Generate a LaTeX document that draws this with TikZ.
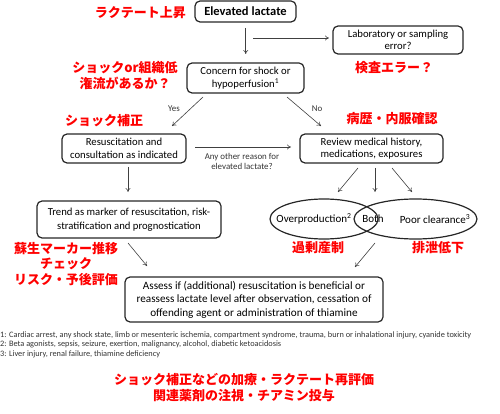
\documentclass[tikz,border=0pt]{standalone}
\usepackage{fontspec}
\setmainfont{Carlito}
\newfontfamily\jp{Noto Sans CJK JP}
\usetikzlibrary{arrows.meta,shapes.geometric}
\begin{document}
\begin{tikzpicture}[x=1pt,y=-1pt,
  box/.style={draw=black!85, line width=1.2pt, rounded corners=5pt, align=center,
    font=\fontsize{10.7}{12.5}\selectfont, inner sep=0pt},
  conn/.style={draw=black!75, line width=0.6pt, -{To[length=4pt,width=5pt]}},
  jlab/.style={text=red, font=\jp\bfseries\fontsize{13}{15.5}\selectfont, align=center, inner sep=0pt},
  small/.style={font=\fontsize{8.9}{10}\selectfont, text=black!80, inner sep=0pt, align=center},
  foot/.style={font=\fontsize{8.3}{9.5}\selectfont, text=black!80, inner sep=0pt, anchor=west},
  elltext/.style={font=\fontsize{11}{12}\selectfont, inner sep=0pt},
  ell/.style={draw=black!85, line width=1.2pt, ellipse, inner sep=0pt}]
\useasboundingbox (0,0) rectangle (500,414);

% boxes
\node[box, minimum width=101pt, minimum height=21pt, font=\bfseries\fontsize{12.5}{13}\selectfont] (elev) at (245.5,11.5) {Elevated lactate};
\node[box, minimum width=130pt, minimum height=28pt] (lab) at (398,40) {Laboratory or sampling\\error?};
\node[box, minimum width=117pt, minimum height=30pt] (concern) at (245.5,78) {Concern for shock or\\hypoperfusion\textsuperscript{1}};
\node[box, minimum width=124pt, minimum height=29pt] (resus) at (124,148.5) {Resuscitation and\\consultation as indicated};
\node[box, minimum width=143pt, minimum height=29pt] (review) at (371.5,148.5) {Review medical history,\\medications, exposures};
\node[box, minimum width=184pt, minimum height=37pt, font=\fontsize{10.7}{14}\selectfont] (trend) at (129,219.5) {Trend as marker of resuscitation, risk-\\stratification and prognostication};
\node[box, minimum width=258pt, minimum height=45pt, font=\fontsize{11.2}{13.5}\selectfont] (assess) at (254,299.5) {Assess if (additional) resuscitation is beneficial or\\reassess lactate level after observation, cessation of\\offending agent or administration of thiamine};

% ellipses
\node[ell, minimum width=108pt, minimum height=40pt] (over) at (324,219) {};
\node[ell, minimum width=123pt, minimum height=40pt] (poor) at (415.5,219) {};
\node[elltext] (overt) at (314,219) {Overproduction\textsuperscript{2}};
\node[elltext] (both) at (373,219) {Both};
\node[elltext] (poort) at (435,219) {Poor clearance\textsuperscript{3}};

% connector end points
\coordinate (e1) at (245.7,28);  \coordinate (e2) at (245.7,54);
\coordinate (l1) at (253,38);    \coordinate (l2) at (329,38);
\coordinate (y1) at (203,97);    \coordinate (y2) at (172,126);
\coordinate (n1) at (287,97);    \coordinate (n2) at (321,126);
\coordinate (a1) at (195,147);   \coordinate (a2) at (291,147);
\coordinate (r1) at (128,167);   \coordinate (r2) at (128,192);
\coordinate (v1) at (358,168);   \coordinate (v2) at (338,192);
\coordinate (v3) at (375,168);   \coordinate (v4) at (375,192);
\coordinate (v5) at (392,168);   \coordinate (v6) at (412,192);
\coordinate (b1) at (375,243);   \coordinate (b2) at (355,267);
\coordinate (t1) at (128,243);   \coordinate (t2) at (147,266);

\draw[conn] (e1) -- (e2);
\draw[conn] (l1) -- (l2);
\draw[conn] (y1) -- (y2);
\draw[conn] (n1) -- (n2);
\draw[conn] (a1) -- (a2);
\draw[conn] (r1) -- (r2);
\draw[conn] (v1) -- (v2);
\draw[conn] (v3) -- (v4);
\draw[conn] (v5) -- (v6);
\draw[conn] (b1) -- (b2);
\draw[conn] (t1) -- (t2);

% connector labels
\node[small] (yes) at (174,109) {Yes};
\node[small] (no) at (317,109) {No};
\node[small] (other) at (242,161) {Any other reason for\\elevated lactate?};

% footnotes
\node[foot] (f1) at (0,335) {1: Cardiac arrest, any shock state, limb or mesenteric ischemia, compartment syndrome, trauma, burn or inhalational injury, cyanide toxicity};
\node[foot] (f2) at (0,344.5) {2: Beta agonists, sepsis, seizure, exertion, malignancy, alcohol, diabetic ketoacidosis};
\node[foot] (f3) at (0,354) {3: Liver injury, renal failure, thiamine deficiency};

% Japanese labels
\node[jlab, anchor=east] (j1) at (186,13) {ラクテート上昇};
\node[jlab] (j2) at (125,75.5) {ショックor組織低\\潅流があるか？};
\node[jlab] (j3) at (394,68) {検査エラー？};
\node[jlab] (j4) at (104,121) {ショック補正};
\node[jlab] (j5) at (392,119) {病歴・内服確認};
\node[jlab] (j6) at (318,248) {過剰産制};
\node[jlab] (j7) at (438,248) {排泄低下};
\node[jlab] (j8) at (66,264) {蘇生マーカー推移\\チェック\\リスク・予後評価};
\node[jlab] (j9) at (244,387.5) {ショック補正などの加療・ラクテート再評価\\関連薬剤の注視・チアミン投与};
\end{tikzpicture}
\end{document}
